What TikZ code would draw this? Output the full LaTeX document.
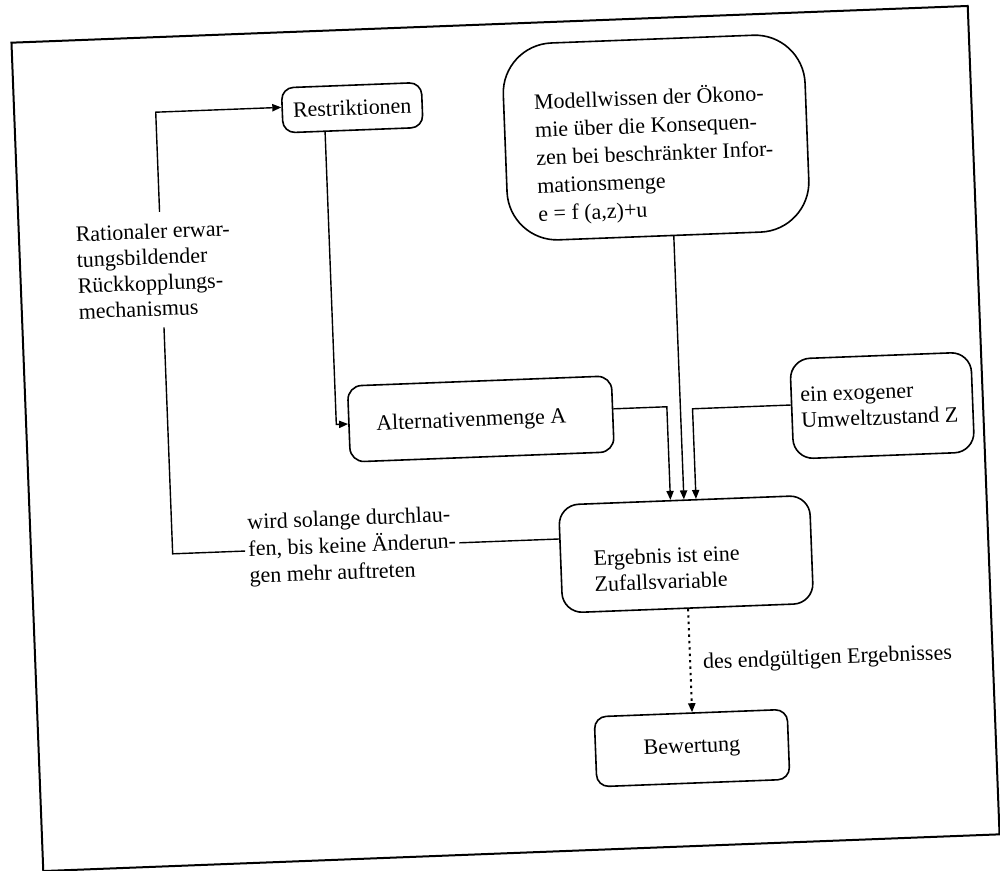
\documentclass[tikz,border=0pt]{standalone}
\usepackage{fontspec}
\setmainfont{Liberation Serif}
\usetikzlibrary{arrows.meta,calc}
\begin{document}
\begin{tikzpicture}[x=0.5pt,y=-0.5pt,
  every node/.style={font=\fontsize{11}{12.9}\selectfont},
  box/.style={draw, line width=0.8pt, rounded corners=#1, inner sep=0pt},
  box/.default=6pt,
  txt/.style={align=left, inner sep=0pt},
  conn/.style={line width=0.7pt},
  arr/.style={conn, -{Triangle[length=4.5pt,width=3.6pt]}},
  dotline/.style={line width=1pt, dash pattern=on 1.2pt off 2pt},
]
\fill[white] (0,0) rectangle (1000,871);
\useasboundingbox (0,0) rectangle (1000,871);
\begin{scope}[rotate around={2.2:(506,438.5)}, transform shape]
\draw[line width=1pt] (27,24) rectangle (984,853);
\node[box=6pt, minimum width=70pt, minimum height=22.5pt] (R) at (365,102) {Restriktionen};
\node[box=25pt, minimum width=151pt, minimum height=98.5pt] (M) at (667.5,143.5) {};
\node[txt, anchor=west, font=\fontsize{11}{14}\selectfont] (Mt) at (546.6,160) {Modellwissen der Ökono-\\mie über die Konsequen-\\zen bei beschränkter Infor-\\mationsmenge\\e = f (a,z)+u};
\node[box=7pt, minimum width=132pt, minimum height=38pt] (A) at (481.6,418) {};
\node[txt] (At) at (472,420) {Alternativenmenge A};
\node[box=10pt, minimum width=90.5pt, minimum height=50pt] (Z) at (883.2,420) {};
\node[txt, anchor=west] (Zt) at (801.5,419) {ein exogener\\Umweltzustand Z};
\node[box=10pt, minimum width=125.5pt, minimum height=54pt] (E) at (681.5,561) {};
\node[txt, anchor=west] (Et) at (588.5,574.6) {Ergebnis ist eine\\Zufallsvariable};
\node[box=6pt, minimum width=96.5pt, minimum height=35pt] (B) at (680,755) {Bewertung};
\node[txt, anchor=west, inner ysep=5.5pt] (Lt) at (83.5,256.5) {Rationaler erwar-\\tungsbildender\\Rückkopplungs-\\mechanismus};
\node[txt, anchor=west, inner xsep=1.5pt, font=\fontsize{11}{13.4}\selectfont] (Wt) at (241,541) {wird solange durchlau-\\fen, bis keine Änderun-\\gen mehr auftreten};
\node[txt, anchor=west] (Dt) at (694,671) {des endgültigen Ergebnisses};
\coordinate (lb) at (168.5,541);
\coordinate (lt) at (168.5,99);
\coordinate (ra) at (337,418);
\coordinate (ae) at (668,413);
\coordinate (me) at (681.5,300);
\coordinate (ze) at (693.6,416);
\draw[conn] (Wt.west) -- (lb) -- ($(lb)!(Lt.south)!(lt)$);
\draw[arr] ($(lb)!(Lt.north)!(lt)$) -- (lt) -- ($(R.north west)!(lt)!(R.south west)$);
\draw[conn] (Wt.east) -- ($(E.north west)!(Wt.east)!(E.south west)$);
\draw[arr] ($(R.south west)!(ra)!(R.south east)$) -- (ra) -- (A.west);
\draw[arr] ($(A.north east)!(ae)!(A.south east)$) -- (ae) -- ($(E.north west)!(ae)!(E.north east)$);
\draw[arr] ($(M.south west)!(me)!(M.south east)$) -- ($(E.north west)!(me)!(E.north east)$);
\draw[arr] ($(Z.north west)!(ze)!(Z.south west)$) -- (ze) -- ($(E.north west)!(ze)!(E.north east)$);
\draw[arr, dotline] (E.south) -- ($(B.north west)!(E.south)!(B.north east)$);
\end{scope}
\end{tikzpicture}
\end{document}
